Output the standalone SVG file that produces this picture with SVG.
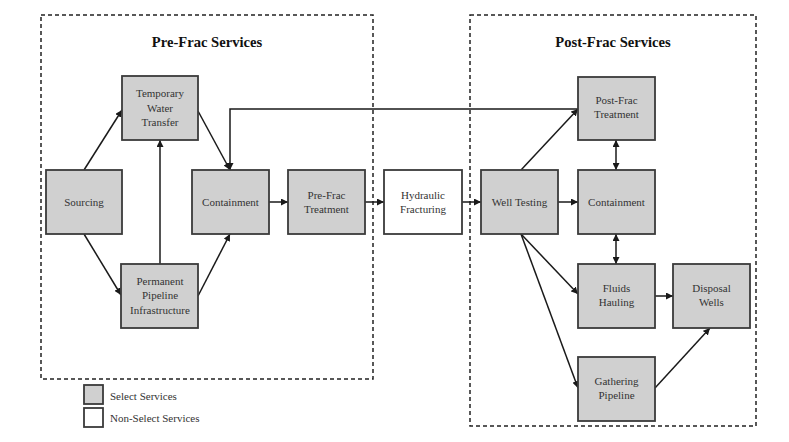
<svg xmlns="http://www.w3.org/2000/svg" width="789" height="442" viewBox="0 0 789 442">
<defs>
<marker id="ah" viewBox="0 0 10 10" refX="10" refY="5" markerWidth="7" markerHeight="7" orient="auto-start-reverse" markerUnits="userSpaceOnUse">
<path d="M0,0 L10,5 L0,10 z" fill="#1a1a1a"/>
</marker>
<style>
text{font-family:'Liberation Serif','Times New Roman',Times,'DejaVu Serif',serif}
.sel{fill:#d0d0d0;stroke:#3a3a3a;stroke-width:1.8}
.non{fill:#ffffff;stroke:#3a3a3a;stroke-width:1.8}
.lbl{font-size:11px;fill:#333;text-anchor:middle}
.ttl{font-size:14.6px;font-weight:bold;fill:#111;text-anchor:middle}
.leg{font-size:11px;fill:#333}
.dash{fill:none;stroke:#222;stroke-width:1.5;stroke-dasharray:4 3}
.c{fill:none;stroke:#1a1a1a;stroke-width:1.5;marker-end:url(#ah)}
.b{marker-start:url(#ah)}
</style>
</defs>
<rect width="789" height="442" fill="#fff"/>
<g id="groups">
<rect class="dash" x="41" y="15" width="332" height="364"/>
<rect class="dash" x="470" y="15" width="286" height="411"/>
<text class="ttl" x="207" y="47">Pre-Frac Services</text>
<text class="ttl" x="613" y="47">Post-Frac Services</text>
</g>
<g id="connectors">
<path class="c" d="M84,170 L122,110"/>
<path class="c" d="M84,234 L121,295"/>
<path class="c" d="M160,264 L160,140"/>
<path class="c" d="M198,111 L230,170"/>
<path class="c" d="M198,296 L230,234"/>
<path class="c" d="M578,109 L230,109 L230,170"/>
<path class="c" d="M269,202 L288,202"/>
<path class="c" d="M365,202 L384,202"/>
<path class="c" d="M462,202 L481,202"/>
<path class="c" d="M558,202 L578,202"/>
<path class="c" d="M521,170 L578,109"/>
<path class="c b" d="M616,140 L616,170"/>
<path class="c b" d="M616,234 L616,264"/>
<path class="c" d="M521,234 L578,294"/>
<path class="c" d="M521,234 L578,388"/>
<path class="c" d="M655,296 L673,296"/>
<path class="c" d="M655,388 L710,328"/>
</g>
<g id="sourcing"><rect class="sel" x="46" y="170" width="76" height="64"/><text class="lbl" x="84" y="205.5">Sourcing</text></g>
<g id="temporary-water-transfer"><rect class="sel" x="122" y="76" width="76" height="64"/><text class="lbl" x="160" y="96.5">Temporary</text><text class="lbl" x="160" y="111.5">Water</text><text class="lbl" x="160" y="126">Transfer</text></g>
<g id="permanent-pipeline"><rect class="sel" x="121" y="264" width="77" height="64"/><text class="lbl" x="160" y="284.5">Permanent</text><text class="lbl" x="160" y="299">Pipeline</text><text class="lbl" x="160" y="313.5">Infrastructure</text></g>
<g id="containment-pre"><rect class="sel" x="192" y="170" width="77" height="64"/><text class="lbl" x="230.5" y="205.5">Containment</text></g>
<g id="pre-frac-treatment"><rect class="sel" x="288" y="170" width="77" height="64"/><text class="lbl" x="326.5" y="198.5">Pre-Frac</text><text class="lbl" x="326.5" y="212.5">Treatment</text></g>
<g id="hydraulic-fracturing"><rect class="non" x="384" y="170" width="78" height="64"/><text class="lbl" x="423" y="198.5">Hydraulic</text><text class="lbl" x="423" y="212.5">Fracturing</text></g>
<g id="well-testing"><rect class="sel" x="481" y="170" width="77" height="64"/><text class="lbl" x="519.5" y="205.5">Well Testing</text></g>
<g id="post-frac-treatment"><rect class="sel" x="578" y="77" width="77" height="63"/><text class="lbl" x="616.5" y="104">Post-Frac</text><text class="lbl" x="616.5" y="118">Treatment</text></g>
<g id="containment-post"><rect class="sel" x="578" y="170" width="77" height="64"/><text class="lbl" x="616.5" y="205.5">Containment</text></g>
<g id="fluids-hauling"><rect class="sel" x="578" y="264" width="77" height="64"/><text class="lbl" x="616.5" y="292">Fluids</text><text class="lbl" x="616.5" y="306">Hauling</text></g>
<g id="disposal-wells"><rect class="sel" x="673" y="264" width="77" height="64"/><text class="lbl" x="711.5" y="292">Disposal</text><text class="lbl" x="711.5" y="306">Wells</text></g>
<g id="gathering-pipeline"><rect class="sel" x="578" y="357" width="77" height="64"/><text class="lbl" x="616.5" y="385">Gathering</text><text class="lbl" x="616.5" y="399">Pipeline</text></g>
<g id="legend">
<rect class="sel" x="84" y="385" width="19" height="19"/>
<rect class="non" x="84" y="408" width="19" height="19"/>
<text class="leg" x="110" y="400">Select Services</text>
<text class="leg" x="110" y="422">Non-Select Services</text>
</g>
</svg>
